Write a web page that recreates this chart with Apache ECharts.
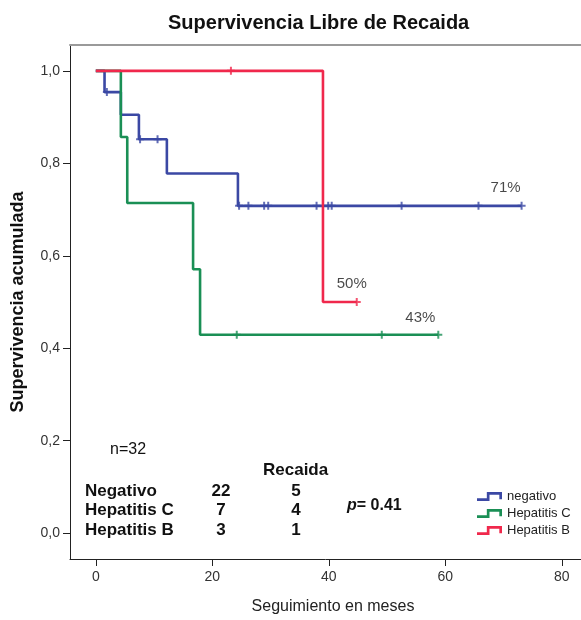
<!DOCTYPE html>
<html><head><meta charset="utf-8">
<script src="https://cdn.jsdelivr.net/npm/echarts@6/dist/echarts.min.js"></script>
<style>html,body{margin:0;padding:0;background:#fff}#c{width:581px;height:620px}</style>
</head><body><div id="c"></div>
<script>
// ---- data ----
const groupNames = ['negativo', 'Hepatitis C', 'Hepatitis B'];
const negEventTimes = [1.5, 4.3, 7.4, 12.2, 24.4];
const negSurvival = [0.954, 0.905, 0.852, 0.778, 0.708];
const negCensorTimes = [1.9, 7.6, 10.6, 24.6, 26.2, 28.9, 29.6, 37.9, 39.9, 40.5, 52.5, 65.7, 73.1];
const hepCEventTimes = [4.3, 5.4, 16.7, 17.9];
const hepCSurvival = [0.857, 0.714, 0.571, 0.429];
const hepCCensorTimes = [24.2, 49.1, 58.8];
const hepBEventTimes = [39.0];
const hepBSurvival = [0.5];
const hepBCensorTimes = [23.2, 44.8];
const finalLabels = ['71%', '43%', '50%'];
const xTicks = [0, 20, 40, 60, 80];
const yTicks = [0, 0.2, 0.4, 0.6, 0.8, 1.0];
const tableHeader = 'Recaida';
const tableNames = ['Negativo', 'Hepatitis C', 'Hepatitis B'];
const tableN = [22, 7, 3];
const tableEvents = [5, 4, 1];
const totalN = 'n=32';
const pValue = '0.41';

// ---- helpers ----
const FONT = '"Liberation Sans", Arial, sans-serif';
const colors = ['#3b48a4', '#1a8f55', '#f0284c'];
const groups = [
  {t: negEventTimes, s: negSurvival, c: negCensorTimes},
  {t: hepCEventTimes, s: hepCSurvival, c: hepCCensorTimes},
  {t: hepBEventTimes, s: hepBSurvival, c: hepBCensorTimes}
];
function stepPoints(g) {
  const end = Math.max(...g.c, ...g.t);
  const pts = [[0, 1]];
  let s = 1;
  g.t.forEach((t, i) => { pts.push([t, s]); s = g.s[i]; pts.push([t, s]); });
  pts.push([end, s]);
  return pts;
}
function survAt(g, x) {
  let s = 1;
  g.t.forEach((t, i) => { if (t <= x) s = g.s[i]; });
  return s;
}
const labelOffsets = [[-16, -5], [-18, -4], [-5, -6]];
const stepIcon = 'path://M0,7 L11,7 L11,0 L28,0 L28,8 L25,8 L25,3 L14,3 L14,10 L0,10 Z';
const plusSym = 'path://M3,0 L5,0 L5,3 L8,3 L8,5 L5,5 L5,8 L3,8 L3,5 L0,5 L0,3 L3,3 Z';

const series = [];
groups.forEach((g, i) => {
  series.push({
    name: groupNames[i], type: 'line', data: stepPoints(g), showSymbol: false,
    lineStyle: {width: 2.6, color: colors[i]}, itemStyle: {color: colors[i]},
    z: 2 + i, animation: false
  });
  series.push({
    name: groupNames[i] + ' cens', type: 'scatter', symbol: plusSym, symbolSize: 8,
    data: g.c.map(x => [x, survAt(g, x)]), itemStyle: {color: colors[i]}, z: 5 + i, animation: false
  });
  const end = Math.max(...g.c, ...g.t);
  series.push({
    name: groupNames[i] + ' lbl', type: 'scatter', symbolSize: 0, z: 10, animation: false,
    data: [{value: [end, survAt(g, end)], label: {offset: labelOffsets[i]}}],
    label: {show: true, position: 'top', formatter: () => finalLabels[i], fontFamily: FONT, fontSize: 15, color: '#1a1a1a'}
  });
});

const graphics = [];
function txt(text, x, y, opts) {
  graphics.push({type: 'text', x: x, y: y, z: 20, style: Object.assign({
    text: text, fill: '#111', font: 'bold 17px ' + FONT,
    align: 'left', verticalAlign: 'middle', textAlign: 'left', textVerticalAlign: 'middle'
  }, opts || {})});
}
txt(totalN, 110, 450, {font: '16px ' + FONT});
txt(tableHeader, 263, 470);
tableNames.forEach((n, i) => {
  const y = 491 + i * 19.6;
  txt(n, 85, y);
  txt(String(tableN[i]), 221, y, {align: 'center', textAlign: 'center'});
  txt(String(tableEvents[i]), 296, y, {align: 'center', textAlign: 'center'});
});
graphics.push({type: 'text', x: 347, y: 506, z: 20, style: {
  text: '{i|p}{b|= ' + pValue + '}', verticalAlign: 'middle', textVerticalAlign: 'middle',
  rich: {
    i: {fontStyle: 'italic', fontWeight: 'bold', fontSize: 16, fontFamily: FONT, fill: '#111', color: '#111'},
    b: {fontWeight: 'bold', fontSize: 16, fontFamily: FONT, fill: '#111', color: '#111'}
  }
}});

const chart = echarts.init(document.getElementById('c'), null, {renderer: 'canvas'});
chart.setOption({
  backgroundColor: '#fff',
  animation: false,
  title: {text: 'Supervivencia Libre de Recaida', left: 163, top: 8,
    textStyle: {fontFamily: FONT, fontSize: 20, fontWeight: 'bold', color: '#111'}},
  grid: {left: 70, right: 0, top: 45, bottom: 58, containLabel: false},
  legend: {
    orient: 'vertical', left: 472, top: 484, itemWidth: 25, itemHeight: 10, itemGap: 2,
    data: groupNames.map(n => ({name: n, icon: stepIcon})),
    textStyle: {fontFamily: FONT, fontSize: 13, color: '#222', lineHeight: 15},
    selectedMode: false
  },
  xAxis: [{
    type: 'value', min: -4.43, max: 83.3,
    name: 'Seguimiento en meses', nameLocation: 'middle', nameGap: 40,
    nameTextStyle: {fontFamily: FONT, fontSize: 16, color: '#222', padding: [0, 0, 0, 15]},
    axisLine: {show: true, onZero: false, lineStyle: {color: '#222', width: 1}},
    axisTick: {show: true, length: 7, customValues: xTicks, lineStyle: {color: '#222'}},
    axisLabel: {customValues: xTicks, margin: 11, fontFamily: FONT, fontSize: 14, color: '#333'},
    splitLine: {show: false}
  }, {
    type: 'value', position: 'top', min: -4.43, max: 83.3,
    axisLine: {show: true, onZero: false, lineStyle: {color: '#9a9a9a', width: 2}},
    axisTick: {show: false}, axisLabel: {show: false}, splitLine: {show: false}
  }],
  yAxis: {
    type: 'value', min: -0.0559, max: 1.0559,
    name: 'Supervivencia acumulada', nameLocation: 'middle', nameGap: 43,
    nameTextStyle: {fontFamily: FONT, fontSize: 18, fontWeight: 'bold', color: '#111'},
    axisLine: {show: true, onZero: false, lineStyle: {color: '#222', width: 1}},
    axisTick: {show: true, length: 7, customValues: yTicks, lineStyle: {color: '#222'}},
    axisLabel: {customValues: yTicks, margin: 10, fontFamily: FONT, fontSize: 14, color: '#333',
      formatter: v => v.toFixed(1).replace('.', ',')},
    splitLine: {show: false}
  },
  series: series,
  graphic: graphics
});
</script>
</body></html>
